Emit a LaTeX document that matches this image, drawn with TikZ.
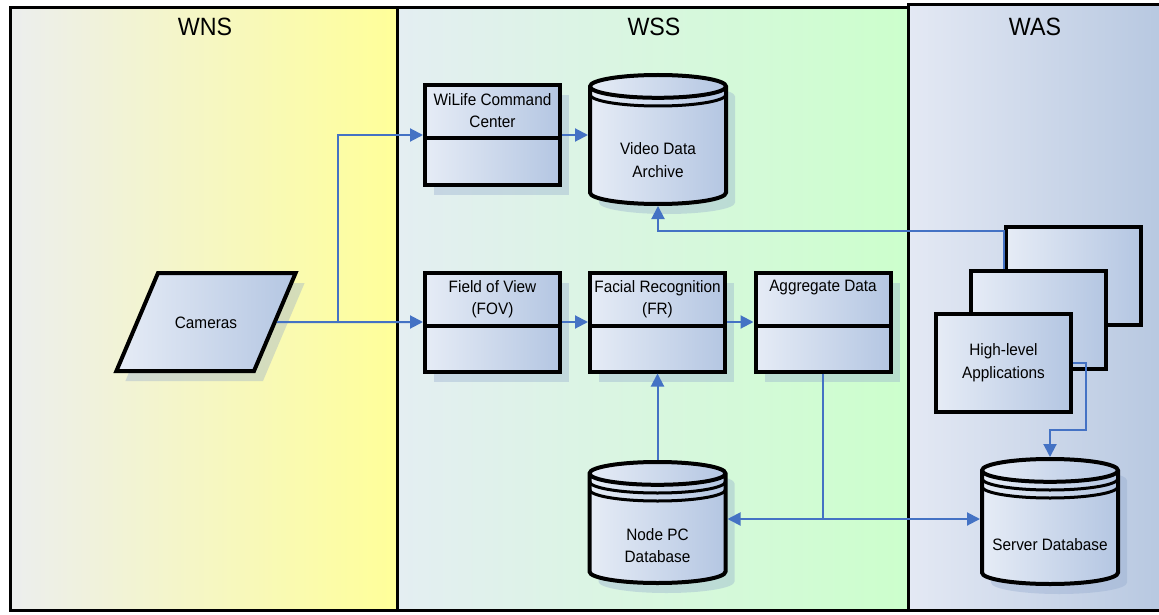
\documentclass[tikz,border=0pt]{standalone}
\usepackage{fontspec}
\setmainfont[FakeStretch=0.93]{Liberation Sans}
\usetikzlibrary{arrows.meta,positioning,shapes.geometric,shadows,calc}
\definecolor{ink}{HTML}{000000}
\definecolor{flowblue}{HTML}{4472C4}
\definecolor{boxlight}{HTML}{E6ECF6}
\definecolor{boxdark}{HTML}{B4C6E2}
\definecolor{shadowblue}{HTML}{8FA6CC}
\definecolor{wnsleft}{HTML}{ECEEEE}
\definecolor{wnsright}{HTML}{FFFF99}
\definecolor{wssleft}{HTML}{E4EEF2}
\definecolor{wssright}{HTML}{CCFFCC}
\definecolor{wasleft}{HTML}{E4E9F4}
\definecolor{wasright}{HTML}{B6C7E0}
\newcommand{\proctext}[1]{\parbox[c][83pt][t]{135pt}{\centering #1}}
\newcommand{\dbtext}[2][20.5pt]{\raisebox{-#1}[0pt][0pt]{\parbox[c]{120pt}{\centering #2}}}
\newcommand{\dbrings}[2]{\foreach \k in {1,...,#1}{\draw[ink, line width=3pt] let \p1=(path picture bounding box.north west), \p2=(path picture bounding box.south east) in (\x1,{\y1-#2-\k*8pt}) arc[start angle=180, end angle=360, x radius={(\x2-\x1)/2}, y radius=#2];}}
\tikzset{
  panel/.style={draw=ink, line width=3pt},
  paneltitle/.style={font=\fontsize{25}{30}\selectfont, text=ink},
  bluefill/.style={left color=boxlight, right color=boxdark, draw=ink, line width=4pt},
  boxshadow/.style={drop shadow={shadow xshift=9pt, shadow yshift=-10pt, fill=shadowblue, opacity=.35}},
  labelfont/.style={font=\fontsize{16.5}{22.5}\selectfont},
  procbox/.style={bluefill, boxshadow, labelfont, minimum width=135pt, minimum height=99pt, inner sep=0pt,
    path picture={\draw[ink, line width=4pt] ([yshift=-53pt]path picture bounding box.north west) -- ([yshift=-53pt]path picture bounding box.north east);}},
  dbbox/.style={cylinder, shape border rotate=90, aspect=0.19, bluefill, boxshadow, labelfont, minimum width=136pt, inner sep=0pt, anchor=north},
  camshape/.style={trapezium, trapezium left angle=67, trapezium right angle=113, bluefill, boxshadow, labelfont, inner sep=0pt, text width=96pt, align=center, text height=55pt, text depth=43pt},
  stackbox/.style={bluefill, labelfont, align=center, minimum width=135pt, minimum height=98pt},
  blueline/.style={draw=flowblue, line width=2pt},
  bluearrow/.style={blueline, -{Triangle[length=13pt,width=13pt]}}
}
\begin{document}
\begin{tikzpicture}[x=1pt, y=-1pt]
\useasboundingbox (0,0) rectangle (1159,615);
\clip (0,0) rectangle (1159,615);
\fill[white] (0,0) rectangle (1159,615);
\draw[panel, left color=wnsleft, right color=wnsright] (10,8) rectangle (397,610);
\draw[panel, left color=wssleft, right color=wssright] (397,8) rectangle (908,610);
\draw[panel, left color=wasleft, right color=wasright] (908,5) rectangle (1170,610);
\node[paneltitle] (wns) at (205,27) {WNS};
\node[paneltitle] (wss) at (654,27) {WSS};
\node[paneltitle] (was) at (1035,27) {WAS};
\node[camshape] (cam) at (206,322) {Cameras};
\node[procbox] (wcc) at (492.5,135) {\proctext{WiLife Command\\Center}};
\node[procbox] (fov) at (492.5,322) {\proctext{Field of View\\(FOV)}};
\node[procbox] (fr) at (657.5,322) {\proctext{Facial Recognition\\(FR)}};
\node[procbox] (aggr) at (823,322) {\proctext{Aggregate Data}};
\node[dbbox, minimum height=129pt, path picture={\dbrings{1}{11.5pt}}] (vda) at (658,73) {\dbtext[18pt]{Video Data\\Archive}};
\node[dbbox, minimum height=121pt, path picture={\dbrings{2}{11.5pt}}] (npc) at (657.5,460) {\dbtext{Node PC\\Database}};
\node[dbbox, minimum height=125pt, path picture={\dbrings{2}{11.5pt}}] (sdb) at (1050,457) {\dbtext{Server Database}};
\node[stackbox] (back) at (1073.5,276) {};
\node[stackbox] (mid) at (1038.5,320) {};
\node[stackbox] (front) at (1003.5,362.5) {High-level\\Applications};
\coordinate (split) at (338,322);
\coordinate (junc) at (823,519);
\draw[bluearrow] (cam.east) -- (fov.west);
\draw[bluearrow] (split) |- (wcc.west);
\draw[bluearrow] (wcc.east) -- (wcc.east -| vda.west);
\draw[bluearrow] (fov.east) -- (fr.west);
\draw[bluearrow] (fr.east) -- (aggr.west);
\draw[bluearrow] (npc.north) -- (fr.south);
\draw[blueline] (aggr.south) -- (junc);
\draw[bluearrow] (junc) -- (junc -| npc.east);
\draw[bluearrow] (junc) -- (junc -| sdb.west);
\draw[bluearrow] (back.west |- mid.north) |- ([yshift=-25pt]vda.south) -- (vda.south);
\draw[bluearrow] (front.east) -| ([xshift=13pt,yshift=-67pt]front.east) -| (sdb.north);
\end{tikzpicture}
\end{document}
